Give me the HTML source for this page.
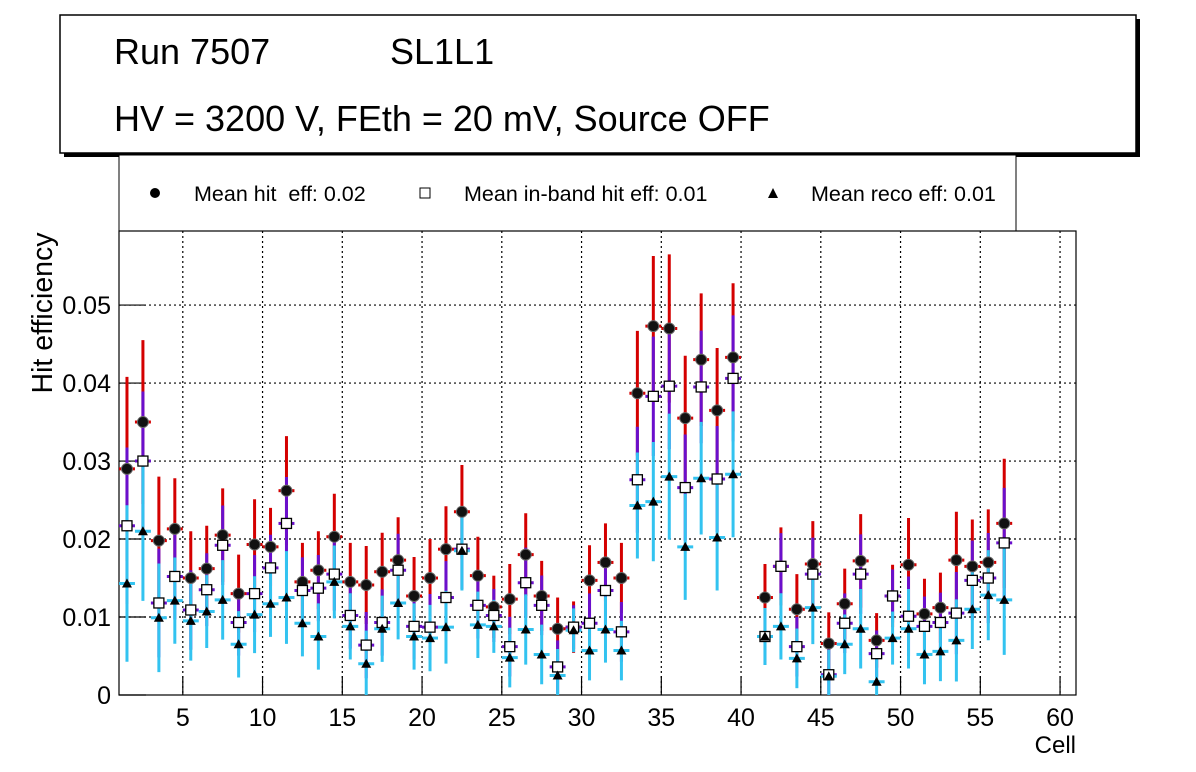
<!DOCTYPE html>
<html><head><meta charset="utf-8"><style>
body{margin:0;background:#fff;}
svg{display:block;font-family:"Liberation Sans",sans-serif;}
</style></head><body>
<svg id="c" width="1196" height="772" viewBox="0 0 1196 772">
<rect x="64" y="19" width="1076" height="138" fill="#000"/>
<rect x="60" y="15" width="1076" height="138" fill="#fff" stroke="#000" stroke-width="1.5"/>
<text x="114" y="64" font-size="36">Run 7507</text>
<text x="390" y="64" font-size="36">SL1L1</text>
<text x="114" y="131" font-size="36">HV = 3200 V, FEth = 20 mV, Source OFF</text>
<g>
<rect x="119" y="155" width="897" height="76" fill="#fff" stroke="#000" stroke-width="1"/>
<circle cx="155" cy="193" r="5" fill="#000"/>
<text x="194" y="201" font-size="21.5">Mean hit&#160; eff: 0.02</text>
<rect x="420" y="188" width="10" height="10" fill="#fff" stroke="#000"/>
<text x="464" y="201" font-size="21.5">Mean in-band hit eff: 0.01</text>
<path d="M773,188 L778,198 L768,198 Z" fill="#000"/>
<text x="811" y="201" font-size="21.5">Mean reco eff: 0.01</text>
</g>
<g id="grid"></g>
<g id="axes"></g>
<g id="marks"></g>
<text x="52" y="313" font-size="28.5" text-anchor="middle" transform="rotate(-90 52 313)">Hit efficiency</text>
<text x="1076" y="753" font-size="24" text-anchor="end">Cell</text>
</svg>
<script>
const cells=[1,2,3,4,5,6,7,8,9,10,11,12,13,14,15,16,17,18,19,20,21,22,23,24,25,26,27,28,29,30,31,32,33,34,35,36,37,38,39,41,42,43,44,45,46,47,48,49,50,51,52,53,54,55,56];
const hitEff=[0.029,0.035,0.0198,0.0213,0.015,0.0162,0.0205,0.013,0.0193,0.019,0.0262,0.0145,0.016,0.0203,0.0145,0.0141,0.0158,0.0173,0.0127,0.015,0.0187,0.0235,0.0153,0.0113,0.0123,0.018,0.0127,0.0085,0.0087,0.0147,0.017,0.015,0.0387,0.0473,0.047,0.0355,0.043,0.0365,0.0433,0.0125,0.0165,0.011,0.0168,0.0066,0.0117,0.0172,0.007,0.0127,0.0167,0.0104,0.0112,0.0173,0.0165,0.017,0.022];
const hitErr=[0.0118,0.0105,0.0082,0.0065,0.006,0.0055,0.006,0.005,0.0058,0.005,0.007,0.005,0.005,0.0055,0.005,0.005,0.005,0.0055,0.005,0.005,0.0055,0.006,0.005,0.004,0.0045,0.0053,0.0045,0.004,0.0033,0.0045,0.005,0.0045,0.008,0.009,0.0095,0.008,0.0085,0.008,0.0095,0.0043,0.005,0.0045,0.0055,0.004,0.0045,0.006,0.0035,0.004,0.006,0.0045,0.0045,0.0062,0.006,0.0068,0.0083];
const bandEff=[0.0217,0.030,0.0118,0.0152,0.0109,0.0135,0.0192,0.0093,0.013,0.0163,0.022,0.0134,0.0137,0.0155,0.0102,0.0064,0.0093,0.016,0.0088,0.0087,0.0125,0.0187,0.0115,0.0102,0.0062,0.0144,0.0115,0.0036,0.0087,0.0092,0.0134,0.0081,0.0276,0.0383,0.0396,0.0266,0.0395,0.0277,0.0406,0.0075,0.0165,0.0062,0.0155,0.0026,0.0092,0.0155,0.0053,0.0127,0.0101,0.0088,0.0093,0.0105,0.0147,0.015,0.0195];
const recoEff=[0.0143,0.021,0.0099,0.0121,0.0095,0.0107,0.0122,0.0065,0.0103,0.0117,0.0125,0.0092,0.0075,0.0145,0.0088,0.004,0.0085,0.0118,0.0075,0.0073,0.0087,0.0185,0.009,0.0088,0.0048,0.0084,0.0052,0.0025,0.0083,0.0057,0.0084,0.0057,0.0243,0.0248,0.028,0.019,0.0278,0.0202,0.0283,0.0075,0.0088,0.0047,0.0112,0.0024,0.0065,0.0085,0.0017,0.0073,0.0085,0.0052,0.0056,0.007,0.011,0.0128,0.0122];
const xTicks=[5,10,15,20,25,30,35,40,45,50,55,60];
const yTicks=[0,0.01,0.02,0.03,0.04,0.05];
const yTickLabels=["0","0.01","0.02","0.03","0.04","0.05"];

const L=119,R=1076,T=231,B=695,XMIN=1,XMAX=61,YMAX=0.0595;
const X=v=>L+(v-XMIN)*(R-L)/(XMAX-XMIN);
const Y=v=>B-v*(B-T)/YMAX;
const NS="http://www.w3.org/2000/svg";
function mk(tag,attrs,parent){const e=document.createElementNS(NS,tag);for(const k in attrs)e.setAttribute(k,attrs[k]);parent.appendChild(e);return e;}
const grid=document.getElementById('grid'),axes=document.getElementById('axes'),marks=document.getElementById('marks');
xTicks.forEach(t=>{const l=mk('line',{x1:X(t),x2:X(t),y1:T,y2:B,stroke:'#000','stroke-width':1.2,'stroke-dasharray':'2,3'},grid);

});
yTicks.slice(1).forEach(t=>{const l=mk('line',{x1:L,x2:R,y1:Y(t),y2:Y(t),stroke:'#000','stroke-width':1.2,'stroke-dasharray':'2,3'},grid);

});
const fr=mk('rect',{x:L,y:T,width:R-L,height:B-T,fill:'none',stroke:'#000','stroke-width':1.2},axes);


xTicks.forEach(t=>{mk('line',{x1:X(t),x2:X(t),y1:B,y2:B-19,stroke:'#000','stroke-width':1.2},axes);});
yTicks.forEach(t=>{mk('line',{x1:L,x2:L+27,y1:Y(t),y2:Y(t),stroke:'#000','stroke-width':1.2},axes);});
xTicks.forEach(t=>{const tx=mk('text',{x:X(t),y:726,'font-size':25,'text-anchor':'middle'},axes);tx.textContent=t;

});
yTicks.forEach((t,i)=>{const tx=mk('text',{x:111,y:Y(t)+9,'font-size':25,'text-anchor':'end'},axes);tx.textContent=yTickLabels[i];

});
function bars(vals,errs,color){cells.forEach((c,i)=>{const cx=X(c+0.5);
const v=mk('line',{x1:cx,x2:cx,y1:Y(Math.min(vals[i]+errs[i],YMAX)),y2:Y(Math.max(vals[i]-errs[i],0)),stroke:color,'stroke-width':3},marks);


mk('line',{x1:X(c),x2:X(c+1),y1:Y(vals[i]),y2:Y(vals[i]),stroke:color,'stroke-width':3},marks);});}
bars(hitEff,hitErr,'#d40000');
bars(bandEff,hitErr.map(e=>e*0.85),'#6a0fcc');
bars(recoEff,hitErr.map(e=>e*0.85),'#33c3f0');
cells.forEach((c,i)=>{const cx=X(c+0.5);
const p=mk('circle',{cx:cx,cy:Y(hitEff[i]),r:5.5,fill:'#111',stroke:'#666','stroke-width':1},marks);


const s=mk('rect',{x:cx-5,y:Y(bandEff[i])-5,width:10,height:10,fill:'#fff',stroke:'#000','stroke-width':1.3},marks);


const y=Y(recoEff[i]);
const t=mk('path',{d:`M${cx},${y-5} L${cx+5},${y+4} L${cx-5},${y+4} Z`,fill:'#000'},marks);

});
</script>
</body></html>
